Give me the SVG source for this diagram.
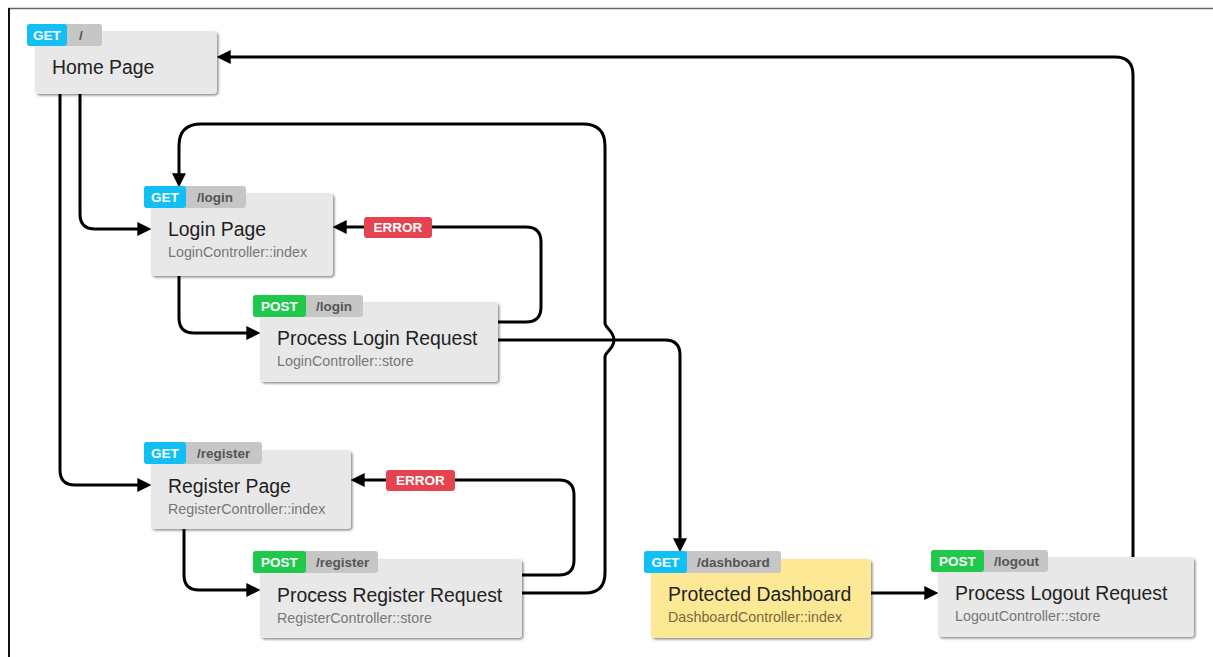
<svg xmlns="http://www.w3.org/2000/svg" width="1213" height="657" viewBox="0 0 1213 657">
<defs>
<filter id="sh" x="-5%" y="-5%" width="115%" height="125%">
<feDropShadow dx="1.5" dy="1.5" stdDeviation="1" flood-color="#000" flood-opacity="0.45"/>
</filter>
<marker id="ah" markerUnits="userSpaceOnUse" markerWidth="14" markerHeight="14" viewBox="0 0 12 12" refX="4" refY="6" orient="auto">
<path d="M0,0 L12,6 L0,12 z" fill="#000"/>
</marker>
</defs>
<style>
.box{fill:#e8e8e8;filter:url(#sh)}
.ybox{fill:#fde995;filter:url(#sh)}
.get{fill:#12bff5}
.post{fill:#1ec94b}
.pth{fill:#c6c6c6}
.err{fill:#e54350}
.tt{font-family:"Liberation Sans",Arial,sans-serif;font-weight:bold;font-size:13.5px;fill:#fff}
.pt{font-family:"Liberation Sans",Arial,sans-serif;font-weight:bold;font-size:13.5px;fill:#555}
.title{font-family:"Liberation Sans",Arial,sans-serif;font-size:19.4px;fill:#222}
.sub{font-family:"Liberation Sans",Arial,sans-serif;font-size:14.3px;fill:#777}
.ysub{font-family:"Liberation Sans",Arial,sans-serif;font-size:14.3px;fill:#7a6a3a}
.c{fill:none;stroke:#000;stroke-width:3;marker-end:url(#ah)}
</style>
<line x1="8" y1="8.5" x2="1213" y2="8.5" stroke="#666" stroke-width="1.5"/>
<line x1="9" y1="8" x2="9" y2="657" stroke="#111" stroke-width="2"/>

<g id="connectors">
<path class="c" d="M80,94 V214 Q80,229 95,229 H142"/>
<path class="c" d="M60,94 V470 Q60,485 75,485 H142"/>
<path class="c" d="M179,276 V318 Q179,333 194,333 H251"/>
<path class="c" d="M498,322 H526 Q541,322 541,307 V242 Q541,227 526,227 H342"/>
<path class="c" d="M498,340 H665 Q680,340 680,355 V543"/>
<path class="c" d="M184,529 V575 Q184,590 199,590 H251"/>
<path class="c" d="M522,575 H559 Q574,575 574,560 V495 Q574,480 559,480 H360"/>
<path class="c" d="M522,593 H585 Q605,593 605,573 V357 C605,352 614,349 614,340 C614,331 605,328 605,323 V146 Q605,124 583,124 H201 Q179,124 179,146 V178"/>
<path class="c" d="M871,593 H929"/>
<path class="c" d="M1133,557 V75 Q1133,57 1115,57 H226"/>
<g id="err1">
<rect class="err" x="364" y="217" width="68" height="21" rx="3"/>
<text class="tt" x="398" y="232" text-anchor="middle">ERROR</text>
</g>
<g id="err2">
<rect class="err" x="386" y="470" width="69" height="21" rx="3"/>
<text class="tt" x="420.5" y="485" text-anchor="middle">ERROR</text>
</g>
</g>

<g id="home">
<rect class="box" x="35" y="31" width="182" height="63" rx="4"/>
<rect class="pth" x="27" y="24" width="75" height="22" rx="3"/>
<rect class="get" x="27" y="24" width="40" height="22" rx="3"/>
<text class="tt" x="47" y="40" text-anchor="middle">GET</text>
<text class="pt" x="79" y="40">/</text>
<text class="title" x="52" y="74">Home Page</text>
</g>

<g id="login">
<rect class="box" x="151" y="193" width="182" height="83" rx="4"/>
<rect class="pth" x="144" y="186" width="102" height="22" rx="3"/>
<rect class="get" x="144" y="186" width="42" height="22" rx="3"/>
<text class="tt" x="165" y="202" text-anchor="middle">GET</text>
<text class="pt" x="197" y="202">/login</text>
<text class="title" x="168" y="236">Login Page</text>
<text class="sub" x="168" y="257">LoginController::index</text>
</g>

<g id="processLogin">
<rect class="box" x="260" y="302" width="238" height="80" rx="4"/>
<rect class="pth" x="253" y="295" width="110" height="22" rx="3"/>
<rect class="post" x="253" y="295" width="53" height="22" rx="3"/>
<text class="tt" x="279.5" y="311" text-anchor="middle">POST</text>
<text class="pt" x="316" y="311">/login</text>
<text class="title" x="277" y="345">Process Login Request</text>
<text class="sub" x="277" y="366">LoginController::store</text>
</g>

<g id="register">
<rect class="box" x="151" y="450" width="200" height="79" rx="4"/>
<rect class="pth" x="144" y="442" width="118" height="22" rx="3"/>
<rect class="get" x="144" y="442" width="42" height="22" rx="3"/>
<text class="tt" x="165" y="458" text-anchor="middle">GET</text>
<text class="pt" x="197" y="458">/register</text>
<text class="title" x="168" y="493">Register Page</text>
<text class="sub" x="168" y="514">RegisterController::index</text>
</g>

<g id="processRegister">
<rect class="box" x="260" y="559" width="262" height="79" rx="4"/>
<rect class="pth" x="253" y="551" width="125" height="22" rx="3"/>
<rect class="post" x="253" y="551" width="53" height="22" rx="3"/>
<text class="tt" x="279.5" y="567" text-anchor="middle">POST</text>
<text class="pt" x="316" y="567">/register</text>
<text class="title" x="277" y="602">Process Register Request</text>
<text class="sub" x="277" y="623">RegisterController::store</text>
</g>

<g id="dashboard">
<rect class="ybox" x="651" y="559" width="220" height="79" rx="4"/>
<rect class="pth" x="644" y="551" width="137" height="22" rx="3"/>
<rect class="get" x="644" y="551" width="43" height="22" rx="3"/>
<text class="tt" x="665.5" y="567" text-anchor="middle">GET</text>
<text class="pt" x="697" y="567">/dashboard</text>
<text class="title" x="668" y="601">Protected Dashboard</text>
<text class="ysub" x="668" y="622">DashboardController::index</text>
</g>

<g id="logout">
<rect class="box" x="938" y="557" width="256" height="80" rx="4"/>
<rect class="pth" x="931" y="550" width="117" height="22" rx="3"/>
<rect class="post" x="931" y="550" width="53" height="22" rx="3"/>
<text class="tt" x="957.5" y="566" text-anchor="middle">POST</text>
<text class="pt" x="994" y="566">/logout</text>
<text class="title" x="955" y="600">Process Logout Request</text>
<text class="sub" x="955" y="621">LogoutController::store</text>
</g>
</svg>
